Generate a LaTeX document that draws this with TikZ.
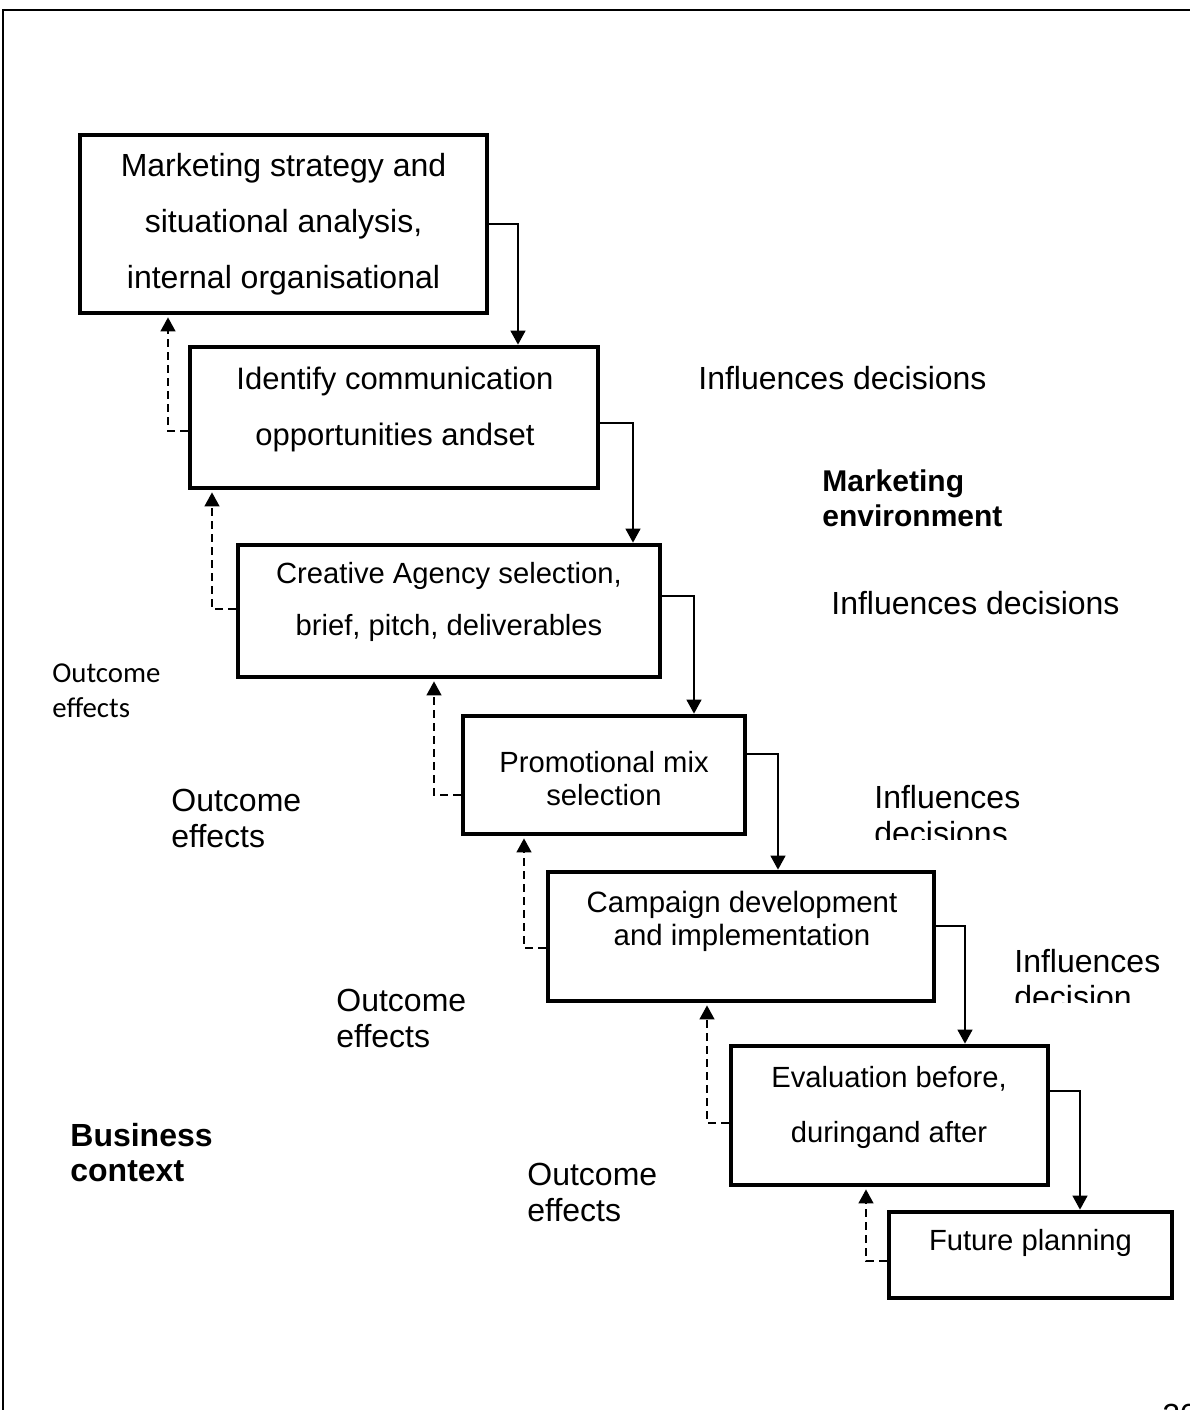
\documentclass[tikz,border=0pt]{standalone}
\usepackage{fontspec}
\setmainfont{Liberation Sans}
\newfontfamily\calibfont{Carlito}
\usetikzlibrary{arrows.meta}
\begin{document}
\begin{tikzpicture}[x=0.5pt,y=-0.5pt,
  stagebox/.style={draw, line width=2.4pt, inner sep=0pt, rectangle},
  boxtext/.style={align=center, inner sep=0pt},
  sidetext/.style={align=left, inner sep=0pt, anchor=west, font=\fontsize{16}{18}\selectfont},
  flow/.style={line width=0.7pt, -{Triangle[width=7.5pt,length=7pt]}},
  feedback/.style={line width=0.7pt, dash pattern=on 4pt off 2.5pt, -{Triangle[width=7.5pt,length=7pt]}, shorten >=1pt},
]
\useasboundingbox (0,0) rectangle (1190,1410);
% page frame
\draw[line width=1pt] (3,1410) -- (3,10) -- (1190,10);

% stage boxes
\node[stagebox, minimum width=203.5pt, minimum height=89pt] (b1) at (283.5,224) {};
\node[stagebox, minimum width=204pt, minimum height=70.5pt] (b2) at (394,417.5) {};
\node[stagebox, minimum width=211pt, minimum height=66pt] (b3) at (449,611) {};
\node[stagebox, minimum width=141pt, minimum height=59pt] (b4) at (604,775) {};
\node[stagebox, minimum width=193pt, minimum height=64.5pt] (b5) at (741,936.5) {};
\node[stagebox, minimum width=158.5pt, minimum height=69.5pt] (b6) at (889.5,1115.5) {};
\node[stagebox, minimum width=141.5pt, minimum height=43pt] (b7) at (1030.5,1255) {};

% box texts
\node[boxtext, font=\fontsize{16}{28}\selectfont] (t1) at (283.5,224) {Marketing strategy and\\situational analysis,\\internal organisational};
\node[boxtext, font=\fontsize{15.5}{28}\selectfont] (t2) at (395,409) {Identify communication\\opportunities andset};
\node[boxtext, font=\fontsize{14.6}{26}\selectfont] (t3) at (449,602) {Creative Agency selection,\\brief, pitch, deliverables};
\node[boxtext, font=\fontsize{14.6}{16.5}\selectfont] (t4) at (604,778.5) {Promotional mix\\selection};
\node[boxtext, font=\fontsize{14.7}{16.5}\selectfont] (t5) at (742,921.5) {Campaign development\\and implementation};
\node[boxtext, font=\fontsize{14.6}{27.5}\selectfont] (t6) at (889,1107.5) {Evaluation before,\\duringand after};
\node[boxtext, font=\fontsize{14.6}{16.5}\selectfont] (t7) at (1030.5,1243) {Future planning};

% flow connector bend points
\coordinate (c1) at (518,224);
\coordinate (c2) at (633,423);
\coordinate (c3) at (694,596);
\coordinate (c4) at (778,754);
\coordinate (c5) at (965,926);
\coordinate (c6) at (1080,1091);
\draw[flow] (b1.east |- c1) -| (b2.north -| c1);
\draw[flow] (b2.east |- c2) -| (b3.north -| c2);
\draw[flow] (b3.east |- c3) -| (b4.north -| c3);
\draw[flow] (b4.east |- c4) -| (b5.north -| c4);
\draw[flow] (b5.east |- c5) -| (b6.north -| c5);
\draw[flow] (b6.east |- c6) -| (b7.north -| c6);

% feedback (dashed) connectors
\coordinate (f1) at (168,431);
\coordinate (f2) at (212,609);
\coordinate (f3) at (434,795);
\coordinate (f4) at (524,948);
\coordinate (f5) at (707,1123);
\coordinate (f6) at (866,1261);
\draw[feedback] (b2.west |- f1) -| (b1.south -| f1);
\draw[feedback] (b3.west |- f2) -| (b2.south -| f2);
\draw[feedback] (b4.west |- f3) -| (b3.south -| f3);
\draw[feedback] (b5.west |- f4) -| (b4.south -| f4);
\draw[feedback] (b6.west |- f5) -| (b5.south -| f5);
\draw[feedback] (b7.west |- f6) -| (b6.south -| f6);

% side labels
\node[sidetext] (i1) at (698,378) {Influences decisions};
\node[sidetext, font=\bfseries\fontsize{15}{17.5}\selectfont] (me) at (822,498.5) {Marketing\\environment};
\node[sidetext] (i2) at (831,603) {Influences decisions};
\node[sidetext, font=\calibfont\fontsize{14.4}{17.5}\selectfont] (o1) at (52,690.5) {Outcome\\effects};
\node[sidetext] (o2) at (171,818.5) {Outcome\\effects};
\begin{scope}
  \clip (860,770) rectangle (1100,839);
  \node[sidetext] (i3) at (874,815.5) {Influences\\decisions};
\end{scope}
\node[sidetext] (o3) at (336,1018.5) {Outcome\\effects};
\begin{scope}
  \clip (1000,935) rectangle (1190,1002);
  \node[sidetext] (i4) at (1014,979.5) {Influences\\decision};
\end{scope}
\node[sidetext, font=\bfseries\fontsize{16}{17.5}\selectfont] (bc) at (70,1152.5) {Business\\context};
\node[sidetext] (o4) at (527,1192.5) {Outcome\\effects};

% page number (cut off at the bottom, as in the reference)
\begin{scope}
  \clip (1100,1350) rectangle (1190,1410);
  \node[anchor=base west, inner sep=0pt, font=\fontsize{16}{18}\selectfont] (pg) at (1162,1426) {20};
\end{scope}
\end{tikzpicture}
\end{document}
